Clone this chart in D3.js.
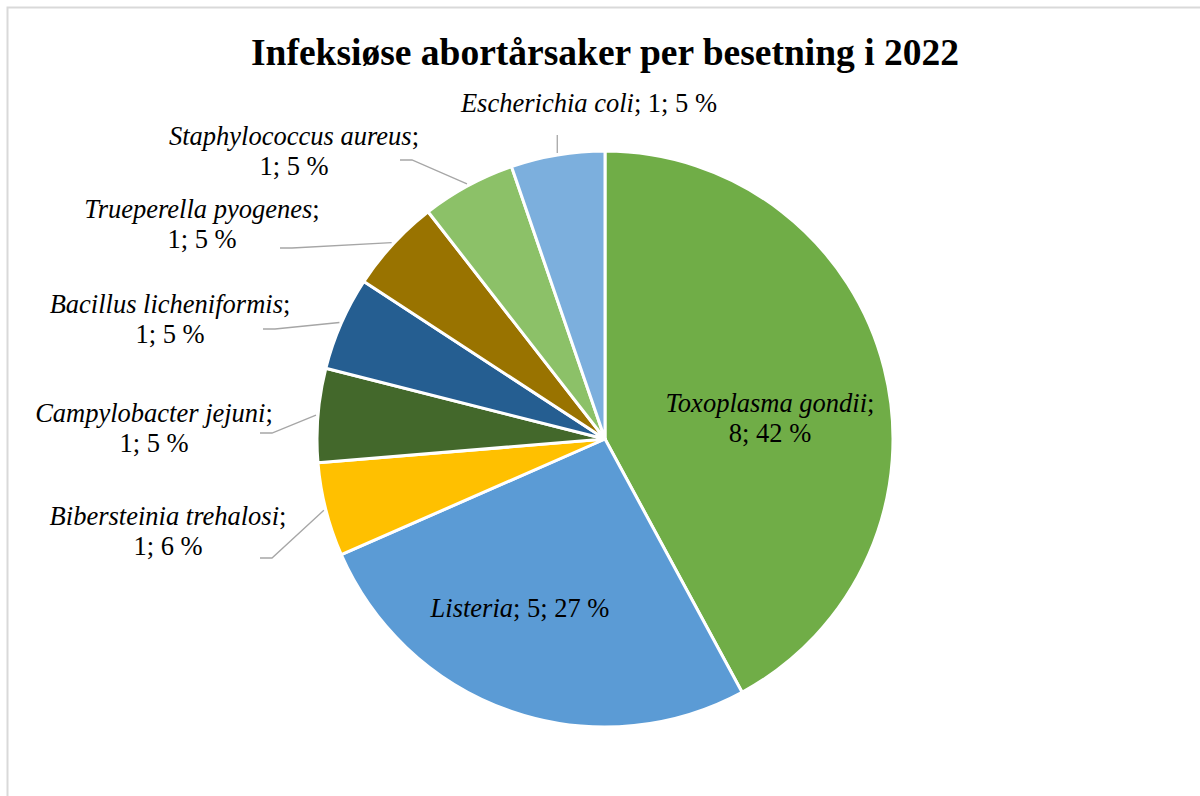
<!DOCTYPE html>
<html>
<head>
<meta charset="utf-8">
<script src="https://cdn.jsdelivr.net/npm/d3@7"></script>
<style>
  body { margin: 0; background: #fff; }
  svg text { font-family: "Liberation Serif", "Times New Roman", serif; fill: #000; }
</style>
</head>
<body>
<div id="chart"></div>
<script>
// data
const categories = ["Toxoplasma gondii", "Listeria", "Bibersteinia trehalosi", "Campylobacter jejuni",
    "Bacillus licheniformis", "Trueperella pyogenes", "Staphylococcus aureus", "Escherichia coli"];
const counts = [8, 5, 1, 1, 1, 1, 1, 1];
const pctLabels = ["42 %", "27 %", "6 %", "5 %", "5 %", "5 %", "5 %", "5 %"];
const colors = ["#70AD47", "#5B9BD5", "#FFC000", "#43682B", "#255E91", "#997300", "#8CC168", "#7CAFDD"];

// label layout: [x centre, baseline of first line, one line?]
const labelAt = [[770, 412, false], [520, 617, true], [168, 525, false], [154, 422, false],
    [170, 313, false], [202, 218, false], [294, 145, false], [589, 112, true]];
// leader line ends (null = label sits inside the slice)
const leaderEnd = [null, null, [260, 558], [260, 433], [263, 329], [280, 248], [400, 160], [558, 135]];

const width = 1200, height = 796;
const cx = 605, cy = 439, radius = 288;

let svg = d3.select("#chart")
    .append("svg")
    .attr("width", width)
    .attr("height", height);

// chart area border
svg.append("rect")
    .attr("x", 7.5).attr("y", 7.5)
    .attr("width", 1400).attr("height", 1000)
    .attr("fill", "none")
    .attr("stroke", "#d9d9d9")
    .attr("stroke-width", 2);

svg.append("text")
    .attr("x", 605)
    .attr("y", 65)
    .style("text-anchor", "middle")
    .style("font-size", "37.5px")
    .style("font-weight", "bold")
    .text("Infeksiøse abortårsaker per besetning i 2022");

let pie = d3.pie().sort(null).value(d => d.count);
let data = categories.map((c, i) => ({ name: c, count: counts[i], pct: pctLabels[i], color: colors[i], i: i }));
let arcs = pie(data);

let arc = d3.arc().innerRadius(0).outerRadius(radius);

let g = svg.append("g").attr("transform", "translate(" + cx + "," + cy + ")");

g.selectAll("path")
    .data(arcs)
    .enter()
    .append("path")
    .attr("d", arc)
    .attr("fill", d => d.data.color)
    .attr("stroke", "#fff")
    .attr("stroke-width", 3)
    .attr("stroke-linejoin", "round");

// leader lines
arcs.forEach(function(d) {
    let end = leaderEnd[d.data.i];
    if (!end) return;
    let a = (d.startAngle + d.endAngle) / 2;
    let sx = cx + (radius + 2) * Math.sin(a);
    let sy = cy - (radius + 2) * Math.cos(a);
    let pts;
    if (Math.abs(end[0] - sx) < 3) {
        pts = [[sx, sy], [sx, end[1]]];
    } else {
        let dir = sx > end[0] ? 1 : -1;
        pts = [[sx, sy], [end[0] + dir * 12, end[1]], end];
    }
    svg.append("path")
        .attr("d", d3.line()(pts))
        .attr("fill", "none")
        .attr("stroke", "#a6a6a6")
        .attr("stroke-width", 1.3);
});

// data labels
let labels = svg.append("g");
arcs.forEach(function(d) {
    let p = labelAt[d.data.i];
    let t = labels.append("text")
        .attr("x", p[0])
        .attr("y", p[1])
        .style("text-anchor", "middle")
        .style("font-size", "26.5px");
    t.append("tspan").style("font-style", "italic").text(d.data.name);
    if (p[2]) {
        t.append("tspan").text("; " + d.data.count + "; " + d.data.pct);
    } else {
        t.append("tspan").text(";");
        t.append("tspan")
            .attr("x", p[0])
            .attr("dy", 30)
            .text(d.data.count + "; " + d.data.pct);
    }
});
</script>
</body>
</html>
